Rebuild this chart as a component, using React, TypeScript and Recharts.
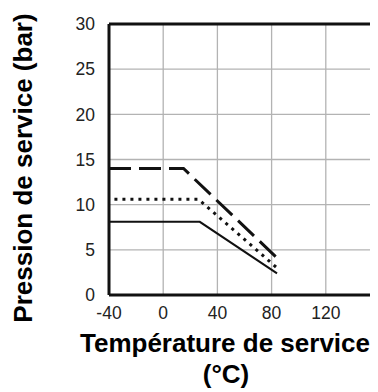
import { LineChart, Line, XAxis, YAxis, CartesianGrid, ReferenceLine, Label } from "recharts";

const xTicks = [-40, 0, 40, 80, 120];
const yTicks = [0, 5, 10, 15, 20, 25, 30];

// three pressure/temperature curves
const solidTemp = [-40, 27, 84];
const solidPress = [8.1, 8.1, 2.4];
const dottedTemp = [-36, 26, 84];
const dottedPress = [10.6, 10.6, 3.0];
const dashedTemp = [-40, 15, 84];
const dashedPress = [14, 14, 4.1];

const toPoints = (t: number[], p: number[]) => t.map((x, i) => ({ t: x, p: p[i] }));

const tickStyle = { fontSize: 17.5, fill: "#222", fontFamily: "Liberation Sans, Arial, sans-serif" };
const titleFont = "Liberation Sans, Arial, sans-serif";

export default function App() {
  return (
    <div style={{ width: 370, height: 384, overflow: "hidden" }}>
      <LineChart width={372} height={384} margin={{ top: 16, right: 0, left: 0, bottom: 0 }}>
        <CartesianGrid stroke="#b3b3b3" strokeWidth={1.3} />
        <XAxis
          type="number"
          dataKey="t"
          domain={[-40, 160]}
          ticks={xTicks}
          allowDuplicatedCategory={false}
          height={97}
          tick={tickStyle}
          tickLine={false}
          tickSize={0}
          tickMargin={12}
          axisLine={{ stroke: "#111", strokeWidth: 3 }}
        >
          <Label
            content={() => (
              <g fontFamily={titleFont} fontWeight="bold" fontSize={26} fill="#000" textAnchor="middle">
                <text x={217} y={344}>Température de service</text>
                <text x={218} y={375}>(°C)</text>
              </g>
            )}
          />
        </XAxis>
        <YAxis
          type="number"
          domain={[0, 30]}
          ticks={yTicks}
          width={101}
          tick={tickStyle}
          tickLine={false}
          tickSize={0}
          tickMargin={14}
          axisLine={{ stroke: "#111", strokeWidth: 3 }}
        >
          <Label
            content={() => (
              <text
                x={0}
                y={0}
                transform="translate(24 160) rotate(-90)"
                fontFamily={titleFont}
                fontWeight="bold"
                fontSize={26}
                fill="#000"
                textAnchor="middle"
              >
                Pression de service (bar)
              </text>
            )}
          />
        </YAxis>
        <ReferenceLine y={30} stroke="#111" strokeWidth={3} />
        <Line
          data={toPoints(solidTemp, solidPress)}
          dataKey="p"
          stroke="#111"
          strokeWidth={2}
          dot={false}
          isAnimationActive={false}
          type="linear"
        />
        <Line
          data={toPoints(dottedTemp, dottedPress)}
          dataKey="p"
          stroke="#111"
          strokeWidth={3}
          strokeDasharray="3 5"
          dot={false}
          isAnimationActive={false}
          type="linear"
        />
        <Line
          data={toPoints(dashedTemp, dashedPress)}
          dataKey="p"
          stroke="#111"
          strokeWidth={3}
          strokeDasharray="22 8"
          dot={false}
          isAnimationActive={false}
          type="linear"
        />
      </LineChart>
    </div>
  );
}
